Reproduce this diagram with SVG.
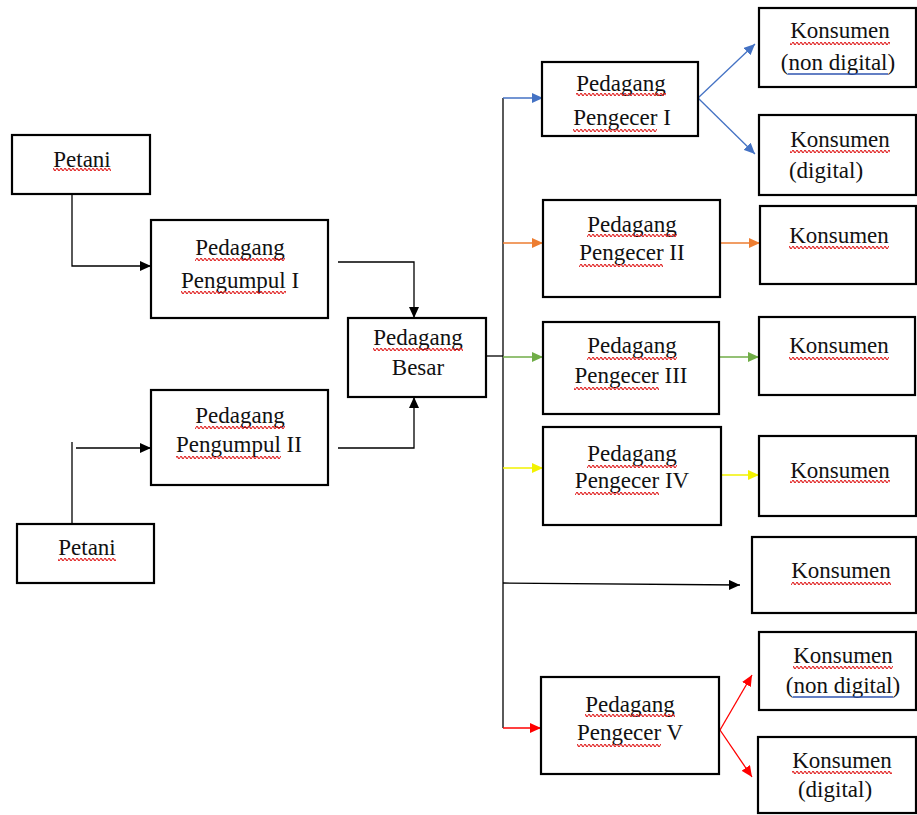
<svg xmlns="http://www.w3.org/2000/svg" width="917" height="815" viewBox="0 0 917 815">
<style>
.box{fill:#fff;stroke:#000;stroke-width:2.2}
text{font-family:"Liberation Serif","Times New Roman",serif;font-size:23px;fill:#111;text-anchor:middle}
.w{fill:url(#wave)}
.bl{stroke:#2f55b0;stroke-width:1.6}
.c{fill:none;stroke-width:1.3}
.k{stroke:#000}.b{stroke:#4472c4}.o{stroke:#ed7d31}.g{stroke:#70ad47}.y{stroke:#f2f200}.r{stroke:#ff0000}
</style>
<defs>
<pattern id="wave" patternUnits="userSpaceOnUse" width="4" height="3"><path d="M0,1.5 Q1,-0.6 2,1.5 T4,1.5" fill="none" stroke="#e02020" stroke-width="1.2"/></pattern>
<marker id="ak" markerUnits="userSpaceOnUse" markerWidth="12" markerHeight="10" refX="11" refY="5" orient="auto"><path d="M0,0 L11,5 L0,10 z" fill="#000"/></marker>
<marker id="ab" markerUnits="userSpaceOnUse" markerWidth="12" markerHeight="10" refX="11" refY="5" orient="auto"><path d="M0,0 L11,5 L0,10 z" fill="#4472c4"/></marker>
<marker id="ao" markerUnits="userSpaceOnUse" markerWidth="12" markerHeight="10" refX="11" refY="5" orient="auto"><path d="M0,0 L11,5 L0,10 z" fill="#ed7d31"/></marker>
<marker id="ag" markerUnits="userSpaceOnUse" markerWidth="12" markerHeight="10" refX="11" refY="5" orient="auto"><path d="M0,0 L11,5 L0,10 z" fill="#70ad47"/></marker>
<marker id="ay" markerUnits="userSpaceOnUse" markerWidth="12" markerHeight="10" refX="11" refY="5" orient="auto"><path d="M0,0 L11,5 L0,10 z" fill="#f2f200"/></marker>
<marker id="ar" markerUnits="userSpaceOnUse" markerWidth="12" markerHeight="10" refX="11" refY="5" orient="auto"><path d="M0,0 L11,5 L0,10 z" fill="#ff0000"/></marker>
</defs>
<rect width="917" height="815" fill="#fff"/>
<g id="connectors">
<path class="c k" d="M72,194 V266 H151" marker-end="url(#ak)"/>
<path class="c k" d="M72,524 V442"/>
<path class="c k" d="M76,448 H151" marker-end="url(#ak)"/>
<path class="c k" d="M338,262 H414 V318" marker-end="url(#ak)"/>
<path class="c k" d="M338,448 H414 V397" marker-end="url(#ak)"/>
<path class="c k" d="M486,356 H503"/>
<path class="c k" d="M503,98 V728"/>
<path class="c b" d="M503,98 H543" marker-end="url(#ab)"/>
<path class="c b" d="M698,98 L755,44" marker-end="url(#ab)"/>
<path class="c b" d="M698,98 L755,154" marker-end="url(#ab)"/>
<path class="c o" d="M503,243 H543" marker-end="url(#ao)"/>
<path class="c o" d="M720,243 H760" marker-end="url(#ao)"/>
<path class="c g" d="M503,357 H543" marker-end="url(#ag)"/>
<path class="c g" d="M719,357 H759" marker-end="url(#ag)"/>
<path class="c y" d="M503,468 H543" marker-end="url(#ay)"/>
<path class="c y" d="M721,475 H759" marker-end="url(#ay)"/>
<path class="c k" d="M503,583 L740,585" marker-end="url(#ak)"/>
<path class="c r" d="M503,728 H541" marker-end="url(#ar)"/>
<path class="c r" d="M720,730 L752,675" marker-end="url(#ar)"/>
<path class="c r" d="M720,730 L752,777" marker-end="url(#ar)"/>
</g>
<g id="petani1"><rect class="box" x="12" y="135" width="138" height="59"/><text x="82" y="167">Petani</text><rect class="w" x="53" y="168" width="58" height="3"/></g>
<g id="pengumpul1"><rect class="box" x="151" y="220" width="177" height="98"/><text x="240" y="255">Pedagang</text><rect class="w" x="195" y="258" width="90" height="3"/><text x="240" y="288">Pengumpul I</text><rect class="w" x="181" y="291" width="105" height="3"/></g>
<g id="pengumpul2"><rect class="box" x="151" y="390" width="177" height="95"/><text x="240" y="423">Pedagang</text><rect class="w" x="195" y="426" width="90" height="3"/><text x="239" y="452">Pengumpul II</text><rect class="w" x="176" y="456" width="105" height="3"/></g>
<g id="petani2"><rect class="box" x="17" y="524" width="137" height="59"/><text x="87" y="555">Petani</text><rect class="w" x="58" y="558" width="58" height="3"/></g>
<g id="besar"><rect class="box" x="348" y="318" width="138" height="79"/><text x="418" y="345">Pedagang</text><rect class="w" x="373" y="348" width="90" height="3"/><text x="418" y="375">Besar</text></g>
<g id="pengecer1"><rect class="box" x="542" y="62" width="156" height="74"/><text x="621" y="91">Pedagang</text><rect class="w" x="576" y="93" width="90" height="3"/><text x="622" y="125">Pengecer I</text><rect class="w" x="573" y="129" width="84" height="3"/></g>
<g id="konsumen1a"><rect class="box" x="759" y="8" width="157" height="79"/><text x="840" y="38">Konsumen</text><rect class="w" x="790" y="42" width="100" height="3"/><text x="838" y="70">(non digital)</text><line class="bl" x1="788" y1="74" x2="888" y2="74"/></g>
<g id="konsumen1b"><rect class="box" x="759" y="115" width="157" height="80"/><text x="840" y="147">Konsumen</text><rect class="w" x="790" y="150" width="100" height="3"/><text x="826" y="178">(digital)</text></g>
<g id="pengecer2"><rect class="box" x="543" y="200" width="177" height="97"/><text x="632" y="232">Pedagang</text><rect class="w" x="587" y="234" width="90" height="3"/><text x="632" y="260">Pengecer II</text><rect class="w" x="579" y="264" width="84" height="3"/></g>
<g id="konsumen2"><rect class="box" x="760" y="206" width="156" height="78"/><text x="839" y="243">Konsumen</text><rect class="w" x="789" y="246" width="100" height="3"/></g>
<g id="pengecer3"><rect class="box" x="543" y="322" width="176" height="92"/><text x="632" y="353">Pedagang</text><rect class="w" x="587" y="357" width="90" height="3"/><text x="631" y="383">Pengecer III</text><rect class="w" x="574" y="387" width="85" height="3"/></g>
<g id="konsumen3"><rect class="box" x="759" y="317" width="156" height="78"/><text x="839" y="353">Konsumen</text><rect class="w" x="789" y="357" width="100" height="3"/></g>
<g id="pengecer4"><rect class="box" x="543" y="427" width="178" height="98"/><text x="632" y="461">Pedagang</text><rect class="w" x="587" y="465" width="90" height="3"/><text x="632" y="488">Pengecer IV</text><rect class="w" x="575" y="492" width="84" height="3"/></g>
<g id="konsumen4"><rect class="box" x="759" y="436" width="157" height="80"/><text x="840" y="478">Konsumen</text><rect class="w" x="790" y="480" width="100" height="3"/></g>
<g id="konsumen5"><rect class="box" x="752" y="537" width="164" height="76"/><text x="841" y="578">Konsumen</text><rect class="w" x="791" y="582" width="100" height="3"/></g>
<g id="pengecer5"><rect class="box" x="541" y="677" width="178" height="97"/><text x="630" y="712">Pedagang</text><rect class="w" x="585" y="714" width="90" height="3"/><text x="630" y="740">Pengecer V</text><rect class="w" x="577" y="744" width="84" height="3"/></g>
<g id="konsumen6a"><rect class="box" x="759" y="632" width="157" height="78"/><text x="843" y="663">Konsumen</text><rect class="w" x="793" y="666" width="100" height="3"/><text x="843" y="693">(non digital)</text><line class="bl" x1="793" y1="697" x2="893" y2="697"/></g>
<g id="konsumen6b"><rect class="box" x="758" y="737" width="158" height="76"/><text x="842" y="768">Konsumen</text><rect class="w" x="792" y="771" width="100" height="3"/><text x="835" y="797">(digital)</text></g>
</svg>
